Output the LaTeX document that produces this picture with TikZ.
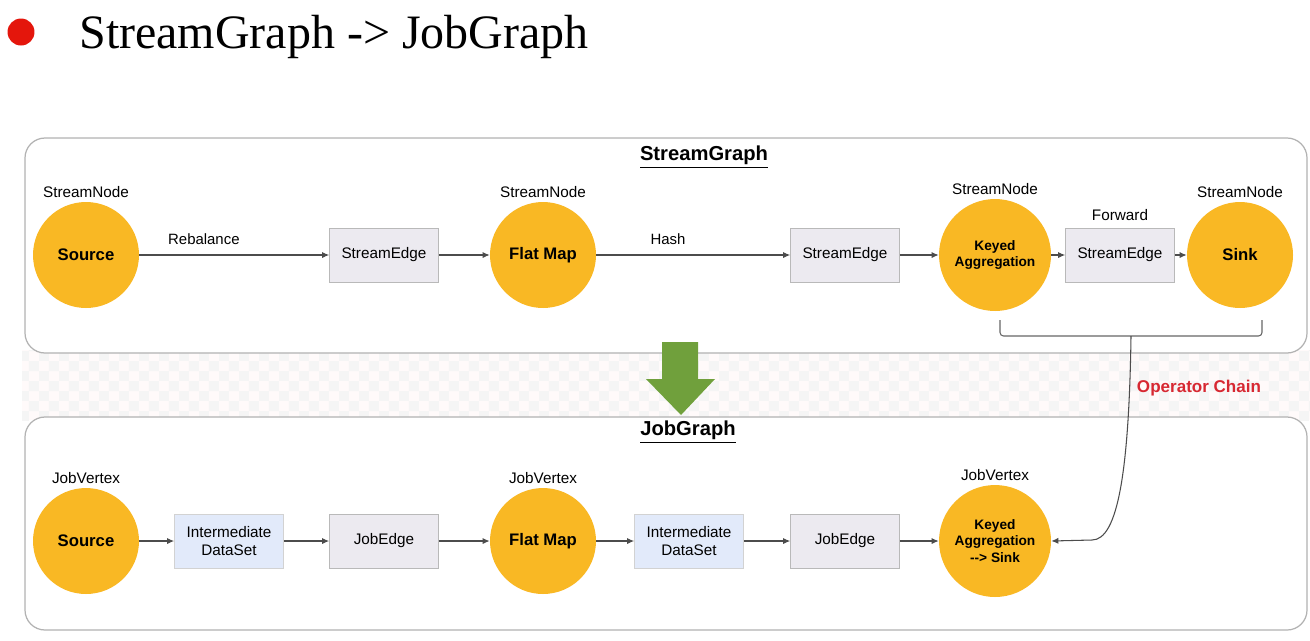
\documentclass[tikz,border=0pt]{standalone}
\usepackage{fontspec}
\setmainfont{Liberation Serif}
\setsansfont{Liberation Sans}
\usepackage{tikz}
\usetikzlibrary{arrows.meta,patterns}
\usepackage{xcolor}
\definecolor{opOrange}{RGB}{249,184,36}
\definecolor{edgeGray}{RGB}{236,234,240}
\definecolor{dataBlue}{RGB}{226,234,250}
\definecolor{arrowGreen}{RGB}{112,160,60}
\definecolor{chainRed}{RGB}{215,40,50}
\definecolor{bulletRed}{RGB}{228,22,12}

\begin{document}
\begin{tikzpicture}[x=0.02cm,y=-0.02cm,
  tag/.style={font=\sffamily\fontsize{8.7}{10}\selectfont,inner sep=2pt},
  op/.style={circle,fill=opOrange,minimum size=2.12cm,inner sep=0pt,align=center,
    font=\sffamily\bfseries\fontsize{9.5}{11}\selectfont,label={[tag]above:#1}},
  kop/.style={minimum size=2.24cm,font=\sffamily\bfseries\fontsize{7.8}{9.5}\selectfont},
  sedge/.style={rectangle,draw=gray!55,fill=edgeGray,minimum width=2.18cm,minimum height=1.08cm,
    align=center,font=\sffamily\fontsize{8.7}{10.5}\selectfont},
  dset/.style={sedge,fill=dataBlue,draw=gray!35},
  elbl/.style={above=2pt,font=\sffamily\fontsize{8.5}{10}\selectfont},
  link/.style={draw=black!70,line width=0.6pt,-{Latex[length=4pt,width=3.5pt]}},
  frame/.style={draw=gray!60,line width=0.7pt,rounded corners=0.4cm,fill=white},
  gtitle/.style={font=\sffamily\bfseries\fontsize{11.5}{13}\selectfont}
  ]
\useasboundingbox (0,0) rectangle (1310,640);
\def\rowS{255}
\def\rowJ{541}
% heading
\node[circle,fill=bulletRed,minimum size=0.54cm,inner sep=0pt] (bullet) at (21,32) {};
\node[anchor=base west,inner sep=0pt,font=\fontsize{27.3}{32}\selectfont] (head) at (79,48) {StreamGraph -> JobGraph};
% background band and frames
\fill[red!2] (22,350) rectangle (1310,420);
\fill[pattern=checkerboard,pattern color=gray!8] (22,350) rectangle (1310,420);
\draw[frame] (25,138) rectangle (1307,353);
\draw[frame] (25,417) rectangle (1307,630);
\node[gtitle] (sgTitle) at (704,157) {\underline{StreamGraph}};
\node[gtitle] (jgTitle) at (688,432) {\underline{JobGraph}};
\fill[arrowGreen] (662,342) -- (698,342) -- (698,379) -- (715,379) -- (681,415) -- (646,379) -- (662,379) -- cycle;
% StreamGraph row
\node[op=StreamNode] (sSrc) at (86,\rowS) {Source};
\node[sedge] (sE1) at (384,\rowS) {StreamEdge};
\node[op=StreamNode] (sMap) at (543,\rowS) {Flat Map};
\node[sedge] (sE2) at (845,\rowS) {StreamEdge};
\node[op=StreamNode,kop] (sAgg) at (995,\rowS) {Keyed\\Aggregation};
\node[sedge,label={[tag,label distance=2pt]above:Forward}] (sE3) at (1120,\rowS) {StreamEdge};
\node[op=StreamNode] (sSink) at (1240,\rowS) {Sink};
\draw[link] (sSrc) -- node[elbl,pos=.34] {Rebalance} (sE1);
\draw[link] (sE1) -- (sMap);
\draw[link] (sMap) -- node[elbl,pos=.37] {Hash} (sE2);
\draw[link] (sE2) -- (sAgg);
\draw[link] (sAgg) -- (sE3);
\draw[link] (sE3) -- (sSink);
% JobGraph row
\node[op=JobVertex] (jSrc) at (86,\rowJ) {Source};
\node[dset] (jD1) at (229,\rowJ) {Intermediate\\DataSet};
\node[sedge] (jE1) at (384,\rowJ) {JobEdge};
\node[op=JobVertex] (jMap) at (543,\rowJ) {Flat Map};
\node[dset] (jD2) at (689,\rowJ) {Intermediate\\DataSet};
\node[sedge] (jE2) at (845,\rowJ) {JobEdge};
\node[op=JobVertex,kop] (jAgg) at (995,\rowJ) {Keyed\\Aggregation\\-{}-> Sink};
\draw[link] (jSrc) -- (jD1);
\draw[link] (jD1) -- (jE1);
\draw[link] (jE1) -- (jMap);
\draw[link] (jMap) -- (jD2);
\draw[link] (jD2) -- (jE2);
\draw[link] (jE2) -- (jAgg);
% operator chain
\coordinate (brL) at (1000,320);   % bracket left end
\coordinate (brR) at (1262,320);   % bracket right end
\coordinate (chMid) at (1131,336); % bracket middle
\draw[draw=black!60,line width=0.6pt,rounded corners=2pt] (brL) |- (brR |- chMid) -- (brR);
\draw[link] (chMid) .. controls (1129,470) and (1118,540) .. (1092,540) -- (jAgg.east);
\node[font=\sffamily\bfseries\fontsize{9.7}{11}\selectfont,text=chainRed] (chainLbl) at (1199,388) {Operator Chain};
\end{tikzpicture}
\end{document}
